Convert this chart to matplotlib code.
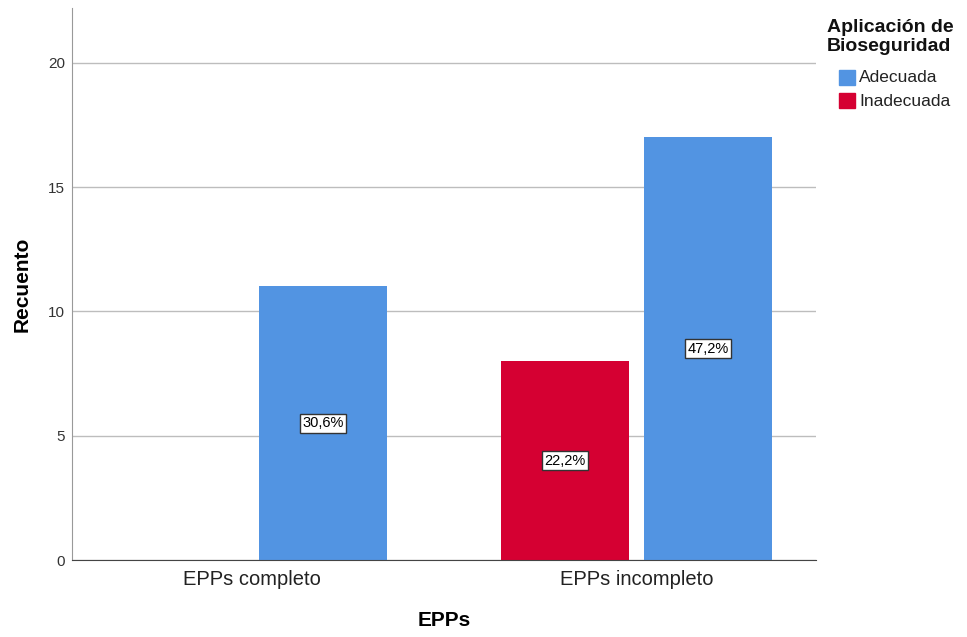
import matplotlib
matplotlib.use("Agg")
import matplotlib.pyplot as plt
from matplotlib.patches import Rectangle

plt.rcParams['font.family'] = ['Liberation Sans', 'DejaVu Sans']

categories = ["EPPs completo", "EPPs incompleto"]
series_names = ["Adecuada", "Inadecuada"]
inadecuada = [0, 8]
adecuada = [11, 17]
total = 36
colors = {"Adecuada": "#5294E2", "Inadecuada": "#D50032"}

W, H = 967, 637
fig = plt.figure(figsize=(W / 100, H / 100), dpi=100)
ax = fig.add_axes([72 / W, 1 - 560 / H, (816 - 72) / W, (560 - 8) / H])

width = 0.332
offset = 0.186
xs = list(range(len(categories)))

for i, (vi, va) in enumerate(zip(inadecuada, adecuada)):
    for val, name, dx in ((vi, "Inadecuada", -offset), (va, "Adecuada", offset)):
        if val <= 0:
            continue
        ax.bar(xs[i] + dx, val, width=width, color=colors[name], zorder=2)
        pct = f"{val / total * 100:.1f}%".replace(".", ",")
        ax.text(xs[i] + dx, val / 2, pct, ha="center", va="center", fontsize=10.5,
                bbox=dict(boxstyle="square,pad=0.18", fc="white", ec="#333333", lw=1),
                zorder=3)

ax.set_xlim(-0.466, 1.466)
ax.set_ylim(0, 22.2)
ax.set_yticks([0, 5, 10, 15, 20])
ax.set_xticks(xs)
ax.set_xticklabels(categories, fontsize=14.5, color="#222222")
ax.tick_params(axis="y", labelsize=11, length=0, pad=5, colors="#333333")
ax.tick_params(axis="x", length=0, pad=7)
ax.yaxis.grid(True, color="#BDBDBD", lw=1, zorder=0)
ax.set_axisbelow(True)

for s in ("top", "right"):
    ax.spines[s].set_visible(False)
ax.spines["left"].set_color("#999999")
ax.spines["bottom"].set_color("#444444")

ax.set_ylabel("Recuento", fontsize=15, fontweight="bold", labelpad=12)
ax.set_xlabel("EPPs", fontsize=15, fontweight="bold", labelpad=16)

# Legend, laid out by hand in figure pixels
fig.text(827 / W, 1 - 19 / H, "Aplicación de\nBioseguridad", ha="left", va="top",
         fontsize=14, fontweight="bold", linespacing=1.12, color="#111111")
for k, name in enumerate(series_names):
    top = 70 + 23 * k
    fig.add_artist(Rectangle((839 / W, 1 - (top + 15) / H), 16 / W, 15 / H,
                             transform=fig.transFigure, color=colors[name]))
    fig.text(859 / W, 1 - (top + 8) / H, name, ha="left", va="center",
             fontsize=12.5, color="#222222")

fig.savefig("out.png", dpi=100, facecolor="white")
